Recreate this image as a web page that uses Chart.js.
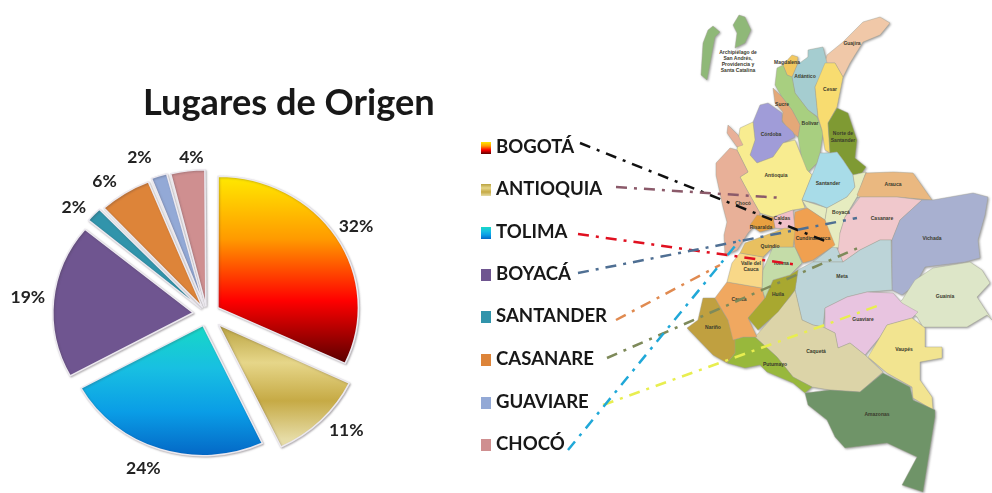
<!DOCTYPE html>
<html>
<head>
<meta charset="utf-8">
<title>Lugares de Origen</title>
<script src="https://cdn.jsdelivr.net/npm/chart.js@4/dist/chart.umd.min.js"></script>
<style>
    html, body { margin: 0; padding: 0; background: #fff; overflow: hidden; }
    #stage { position: relative; width: 992px; height: 493px; font-family: Lato, sans-serif; color: #181818; }
    #map, #pieChart { position: absolute; left: 0; top: 0; }
    #regions { filter: blur(0.6px) drop-shadow(1px 1px 1px rgba(60, 60, 60, 0.5)); }
    #map text { font: bold 5px "Liberation Sans", sans-serif; fill: #3a3a2c; text-anchor: middle; }
    #title { position: absolute; left: 143px; top: 79px; font-size: 36.2px; font-weight: bold; white-space: nowrap; }
    .item { position: absolute; left: 481px; height: 24px; line-height: 24px; font-size: 18.6px; font-weight: bold; white-space: nowrap; }
    .item i { display: inline-block; width: 10px; height: 12px; margin-right: 5px; vertical-align: -1px; }
</style>
</head>
<body>
<div id="stage">
    <svg id="map" width="992" height="493" viewBox="0 0 992 493"></svg>
    <canvas id="pieChart" width="992" height="493"></canvas>
    <div id="title">Lugares de Origen</div>
    <div id="legend"></div>
</div>

<script>
const categories = ["BOGOTÁ", "ANTIOQUIA", "TOLIMA", "BOYACÁ", "SANTANDER", "CASANARE", "GUAVIARE", "CHOCÓ"];
const percentages = [32, 11, 24, 19, 2, 6, 2, 4];
const sliceOffsets = [48, 60, 48, 52, 32, 32, 32, 32];
const sliceFills = [
    ["#ffe800", "#ff9a00", "#ff0000", "#5c0000"],
    ["#b9a23f", "#e6d689", "#c6aa45", "#e6dcA6"],
    ["#17d8c6", "#18bfe2", "#0a9de6", "#0468c6"],
    ["#6f5590"], ["#3194ab"], ["#dd8439"], ["#93a9d6"], ["#cf8f90"]
];
// top and bottom of each gradient, as a share of the radius from the pie centre
const gradientSpans = [[-1, 0.42], [0, 0.88], [0, 1]];
const labelNudges = [[-3, -2], [12, 3], [-8, 2], [0, -2], [-2, 3], [-6, 2], [-12, -4], [7, 2]];
const leaderColors = ["#111111", "#8b5a6a", "#e01020", "#4f6f93", "#e08a50", "#7e8a5a", "#e8ee50", "#20a8d8"];
const leaderLines = [
    [580, 143, 830, 243], [616, 187, 783, 198], [578, 234, 798, 265], [578, 273, 857, 218],
    [616, 320, 720, 265], [607, 358, 860, 247], [603, 405, 880, 305], [568, 450, 740, 240]
];
const legendTops = [134, 176, 219, 261, 303, 346, 389, 431];

// the departments of the map, background picture only
const regions = [
    ["#e6ecc0", "802,200 827,208 825,220 807,208"],
    ["#e6ecc0", "866,172 860,197 857,197"],
    ["#bcd4d8", "838,250 843,262 813,262 835,245"],
    ["#8fb878", "713,26 720,32 715,37 712,53 707,80 701,75 703,43 708,30"],
    ["#8fb878", "739,15 745,17 751,30 745,43 735,48 737,33 733,25"],
    ["#f0c8a8", "827,55 843,42 863,22 880,17 890,23 880,35 863,42 850,63 843,77 835,63 825,63"],
    ["#a5cdd0", "808,50 823,47 827,63 815,87 818,117 808,110 795,93 792,77 797,65 808,57"],
    ["#f2c860", "783,65 792,55 798,57 797,65 792,77 787,75"],
    ["#a8cf80", "777,68 783,65 787,75 792,77 795,93 808,110 817,117 823,133 820,153 817,163 808,172 802,160 798,137 800,125 792,110 782,97 775,85"],
    ["#f8dc70", "825,63 835,63 843,77 837,107 828,123 830,153 825,150 822,130 818,117 815,87"],
    ["#7f9a33", "837,108 848,113 857,140 855,158 866,167 862,173 853,175 843,160 837,152 830,153 828,123"],
    ["#e4a878", "773,88 782,97 792,110 800,125 798,137 787,128 782,120 783,112 775,103"],
    ["#a09cd8", "760,105 768,103 782,113 782,122 793,132 795,137 783,143 773,157 757,163 750,155 755,140 753,122"],
    ["#f8ec90", "753,122 755,140 750,155 757,163 773,157 783,143 795,140 807,170 812,175 802,200 805,208 793,210 773,217 760,213 747,190 740,177 748,172 737,150 740,128"],
    ["#e8b098", "728,125 738,135 743,145 737,147 727,133"],
    ["#e8b098", "730,148 737,150 748,172 740,177 747,190 760,213 755,225 748,233 737,250 725,255 724,235 727,222 723,207 716,175 716,163"],
    ["#a8dce8", "820,153 830,153 837,152 843,160 853,175 855,187 847,197 827,208 815,203 802,200 812,175 817,163"],
    ["#e6ecc0", "853,175 866,172 857,197 845,217 840,233 840,248 830,247 825,220 827,208 847,197 855,187"],
    ["#eab880", "866,173 893,172 913,173 925,190 932,200 897,197 860,197 857,195"],
    ["#f0c8cc", "860,197 897,197 922,200 900,220 892,240 880,240 860,250 843,262 838,250 840,233 845,217"],
    ["#a8b0d0", "922,200 933,200 973,193 988,197 985,215 978,240 980,258 965,262 925,267 915,285 902,295 892,290 892,240 900,220"],
    ["#bcd4d8", "891,240 892,290 867,292 847,297 825,308 823,327 813,325 802,320 795,290 798,270 813,262 843,262 860,250 880,240"],
    ["#dde6c8", "902,300 915,280 933,268 970,262 982,270 990,283 977,297 992,320 987,315 967,327 923,327 917,317 900,302"],
    ["#e8c4e0", "825,308 847,297 867,292 893,293 902,303 918,312 912,318 887,325 880,337 865,355 850,343 838,348 835,333 825,328"],
    ["#f2e490", "887,325 912,318 925,328 925,347 942,347 942,358 920,362 920,380 932,397 933,410 913,398 912,387 887,373 868,357 880,337"],
    ["#dcd4a8", "795,290 802,320 813,325 823,327 825,328 835,333 838,348 850,343 865,355 883,372 860,392 830,390 812,387 793,377 777,357 755,337 770,320 790,297"],
    ["#6f9468", "805,393 830,390 860,392 883,373 910,387 913,400 935,410 935,417 923,492 917,490 902,485 917,457 887,443 845,448 835,437 827,420 808,405"],
    ["#98b83c", "733,340 743,337 755,337 777,357 793,377 812,387 805,393 793,383 767,372 760,365 745,368 727,363 735,353"],
    ["#c0a040", "703,298 715,298 728,320 735,340 735,353 727,363 713,355 687,328 698,320"],
    ["#f0a860", "715,298 727,282 762,288 765,300 748,318 757,337 743,337 733,340 728,320"],
    ["#a8a830", "765,298 773,280 790,275 798,270 795,290 778,312 758,330 748,318"],
    ["#c4dca8", "762,288 763,270 773,247 795,247 802,263 790,275 773,280 765,298"],
    ["#f8d888", "727,282 732,263 740,253 763,257 762,288"],
    ["#f0a050", "795,212 807,208 825,220 835,245 813,260 803,263 795,247 793,230"],
    ["#f0c0c8", "773,217 793,210 795,230 775,228"],
    ["#e8a040", "757,215 773,217 775,228 760,232 750,225"],
    ["#e8c060", "753,240 785,228 795,230 793,247 773,247 763,257 740,253 745,243"]
];
const regionNames = [
    ["Guajira", 852, 45], ["Magdalena", 787, 64], ["Atlántico", 805, 78], ["Cesar", 830, 91], ["Sucre", 782, 106],
    ["Bolívar", 810, 125], ["Norte de", 843, 135], ["Santander", 843, 142], ["Córdoba", 771, 136], ["Antioquia", 776, 177],
    ["Santander", 828, 185], ["Arauca", 893, 186], ["Boyacá", 841, 214], ["Casanare", 882, 220], ["Vichada", 932, 240],
    ["Chocó", 743, 205], ["Caldas", 782, 220], ["Risaralda", 761, 229], ["Quindío", 770, 248], ["Cundinamarca", 813, 240],
    ["Valle del", 751, 265], ["Cauca", 751, 271], ["Tolima", 781, 265], ["Meta", 842, 278], ["Huila", 778, 296],
    ["Cauca", 739, 301], ["Nariño", 713, 329], ["Guaviare", 863, 321], ["Guainía", 945, 298], ["Vaupés", 904, 351],
    ["Caquetá", 816, 353], ["Putumayo", 775, 366], ["Amazonas", 877, 416],
    ["Archipiélago de", 738, 54], ["San Andrés,", 738, 60], ["Providencia y", 738, 66], ["Santa Catalina", 738, 72]
];

const X_STRETCH = 1.07;
const LABEL_RX = 180;
const LABEL_RY = 160;


function drawMap() {
    let markup = '<g id="regions">';
    regions.forEach(r => {
        markup += `<polygon fill="${r[0]}" stroke="#a0a090" stroke-width="0.4" points="${r[1]}"/>`;
    });
    markup += "</g>";
    regionNames.forEach(n => {
        markup += `<text x="${n[1]}" y="${n[2]}">${n[0]}</text>`;
    });
    leaderLines.forEach((l, i) => {
        markup += `<line x1="${l[0]}" y1="${l[1]}" x2="${l[2]}" y2="${l[3]}" stroke="${leaderColors[i]}" stroke-width="2.5" stroke-dasharray="11 7 3 7"/>`;
    });
    document.getElementById("map").innerHTML = markup;
}


function drawLegend() {
    let markup = "";
    categories.forEach((name, i) => {
        const stops = sliceFills[i];
        const fill = stops.length > 1 ? `linear-gradient(${stops.join(",")})` : stops[0];
        markup += `<div class="item" style="top:${legendTops[i]}px"><i style="background:${fill}"></i>${name}</div>`;
    });
    document.getElementById("legend").innerHTML = markup;
}


function sliceBackground(context) {
    const stops = sliceFills[context.dataIndex];
    const area = context.chart.chartArea;
    if (stops.length === 1 || !area) {
        return stops[0];
    }
    const centerY = area.top + area.height / 2;
    const radius = (area.height - 62) / 2;
    const span = gradientSpans[context.dataIndex];
    const gradient = context.chart.ctx.createLinearGradient(0, centerY + span[0] * radius, 0, centerY + span[1] * radius);
    stops.forEach((color, i) => gradient.addColorStop(i / (stops.length - 1), color));
    return gradient;
}


// the pie in the picture is a little wider than tall
const stretchPlugin = {
    id: "stretch",
    beforeDatasetsDraw(chart) {
        const ctx = chart.ctx;
        const area = chart.chartArea;
        const cx = (area.left + area.right) / 2;
        ctx.save();
        ctx.translate(cx, 0);
        ctx.scale(X_STRETCH, 1);
        ctx.translate(-cx, 0);
        ctx.shadowColor = "rgba(70, 60, 70, 0.35)";
        ctx.shadowBlur = 2;
        ctx.shadowOffsetX = 1;
        ctx.shadowOffsetY = 1;
    },
    afterDatasetsDraw(chart) {
        chart.ctx.restore();
    }
};

const percentLabels = {
    id: "percentLabels",
    afterDraw(chart) {
        const ctx = chart.ctx;
        ctx.save();
        ctx.font = "bold 17.5px Lato, sans-serif";
        ctx.fillStyle = "#222";
        ctx.textAlign = "center";
        ctx.textBaseline = "middle";
        chart.getDatasetMeta(0).data.forEach((arc, i) => {
            const mid = (arc.startAngle + arc.endAngle) / 2;
            const x = arc.x + Math.cos(mid) * LABEL_RX + labelNudges[i][0];
            const y = arc.y + Math.sin(mid) * LABEL_RY + labelNudges[i][1];
            ctx.fillText(percentages[i] + "%", x, y);
        });
        ctx.restore();
    }
};


function renderPieChart() {
    new Chart(document.getElementById("pieChart"), {
        type: "pie",
        data: {
            labels: categories,
            datasets: [{
                data: percentages,
                backgroundColor: sliceBackground,
                borderColor: "#ece9ef",
                borderWidth: 1.5,
                borderJoinStyle: "round",
                offset: sliceOffsets
            }]
        },
        options: {
            responsive: false,
            animation: false,
            layout: {
                padding: { left: 46, right: 624, top: 153, bottom: 18 }
            },
            plugins: {
                legend: { display: false },
                tooltip: { enabled: false }
            }
        },
        plugins: [stretchPlugin, percentLabels]
    });
}


drawMap();
drawLegend();
renderPieChart();
</script>
</body>
</html>
